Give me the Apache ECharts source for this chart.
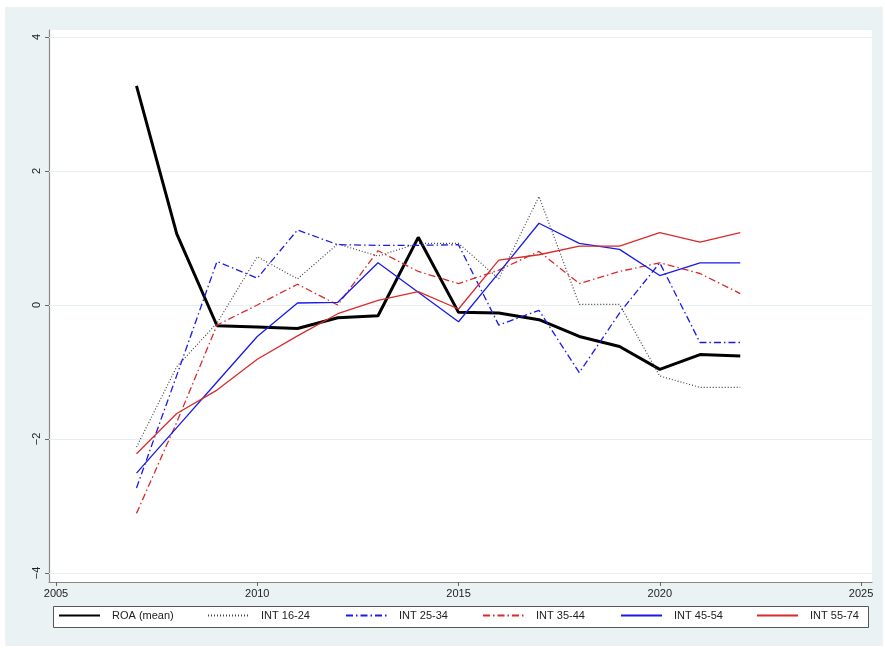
<!DOCTYPE html>
<html>
<head>
<meta charset="utf-8">
<script src="https://cdn.jsdelivr.net/npm/echarts@6/dist/echarts.min.js"></script>
<style>
html,body{margin:0;padding:0;background:#fff;width:885px;height:648px;overflow:hidden;}
#bg{position:absolute;left:5px;top:7px;width:878px;height:639px;background:#eaf2f3;}
#chart{position:absolute;left:0;top:0;width:885px;height:648px;}
</style>
</head>
<body>
<div id="bg"></div>
<div id="chart"></div>
<script>
const years = [2007,2008,2009,2010,2011,2012,2013,2014,2015,2016,2017,2018,2019,2020,2021,2022];
const roaMean = [3.27,1.06,-0.31,-0.33,-0.35,-0.19,-0.16,1.01,-0.11,-0.12,-0.22,-0.47,-0.62,-0.96,-0.74,-0.76];
const int1624 = [-2.12,-0.92,-0.27,0.72,0.39,0.91,0.73,0.92,0.92,0.39,1.62,0.01,0.01,-1.06,-1.23,-1.23];
const int2534 = [-2.73,-1.05,0.65,0.40,1.12,0.90,0.89,0.89,0.90,-0.30,-0.08,-1.01,-0.12,0.63,-0.56,-0.56];
const int3544 = [-3.11,-1.75,-0.30,0.00,0.31,0.00,0.81,0.50,0.32,0.52,0.80,0.32,0.50,0.63,0.47,0.17];
const int4554 = [-2.51,-1.83,-1.15,-0.47,0.03,0.04,0.63,0.19,-0.25,0.48,1.22,0.92,0.83,0.44,0.63,0.63];
const int5574 = [-2.22,-1.62,-1.27,-0.81,-0.46,-0.13,0.07,0.20,-0.06,0.67,0.75,0.88,0.88,1.08,0.94,1.08];
const seriesNames = ['ROA (mean)','INT 16-24','INT 25-34','INT 35-44','INT 45-54','INT 55-74'];
const xTicks = [2005,2010,2015,2020,2025];
const yTicks = [-4,-2,0,2,4];

const FONT = '"Liberation Sans", Arial, sans-serif';
const chart = echarts.init(document.getElementById('chart'), null, {renderer:'canvas'});
const pairs = arr => years.map((y,i)=>[y,arr[i]]);

const styles = [
  {color:'#000000', width:3, type:'solid'},
  {color:'#444444', width:1.2, type:[1,2]},
  {color:'#1a1ae6', width:1.3, type:[7,3,1.5,3]},
  {color:'#d92b2b', width:1.3, type:[7,3,1.5,3]},
  {color:'#1a1ae6', width:1.3, type:'solid'},
  {color:'#d92b2b', width:1.3, type:'solid'}
];
const allData = [roaMean,int1624,int2534,int3544,int4554,int5574];
const legendLeft = [58,207,345,482,620,756];

const series = allData.map((d,i)=>({
  name: seriesNames[i],
  type:'line',
  data: pairs(d),
  symbol:'none',
  showSymbol:false,
  animation:false,
  color: styles[i].color,
  lineStyle:{color:styles[i].color,width:styles[i].width,type:styles[i].type},
  z: 3
}));
series[0].markLine = {
  silent:true, symbol:'none', animation:false,
  label:{show:false},
  lineStyle:{color:'#e6eff1',width:1,type:'solid'},
  data: yTicks.map(v=>({yAxis:v})),
  z:1
};

const legends = seriesNames.map((n,i)=>({
  data:[n],
  left: legendLeft[i],
  top: 610,
  padding:0,
  itemWidth:41,
  itemHeight:14,
  z:10,
  selectedMode:false,
  itemStyle:{opacity:0},
  textStyle:{fontFamily:FONT,fontSize:11,color:'#222',padding:[0,0,0,7]}
}));

chart.setOption({
  backgroundColor:'transparent',
  animation:false,
  grid:{left:49,right:13,top:30,bottom:66,show:true,backgroundColor:'#ffffff',borderWidth:0,containLabel:false,outerBoundsMode:'none'},
  xAxis:{
    type:'value', min:2004.826, max:2025.273,
    axisLine:{show:true,onZero:false,lineStyle:{color:'#888',width:1.2}},
    axisTick:{show:true,customValues:xTicks,length:4,lineStyle:{color:'#666'}},
    axisLabel:{customValues:xTicks,margin:6,fontFamily:FONT,fontSize:11,color:'#222',
      formatter:v=>String(v)},
    splitLine:{show:false}
  },
  yAxis:{
    type:'value', min:-4.134, max:4.104,
    axisLine:{show:true,onZero:false,lineStyle:{color:'#888',width:1.2}},
    axisTick:{show:true,customValues:yTicks,length:4,lineStyle:{color:'#666'}},
    axisLabel:{customValues:yTicks,rotate:90,margin:7,fontFamily:FONT,fontSize:11,color:'#222',
      formatter:v=>String(v).replace('-','\u2212')},
    splitLine:{show:false}
  },
  legend: legends,
  graphic:[{
    type:'rect', left:53, top:606, z:1,
    shape:{width:815,height:21},
    style:{fill:'#ffffff',stroke:'#555',lineWidth:1}
  }],
  series: series
});
</script>
</body>
</html>
